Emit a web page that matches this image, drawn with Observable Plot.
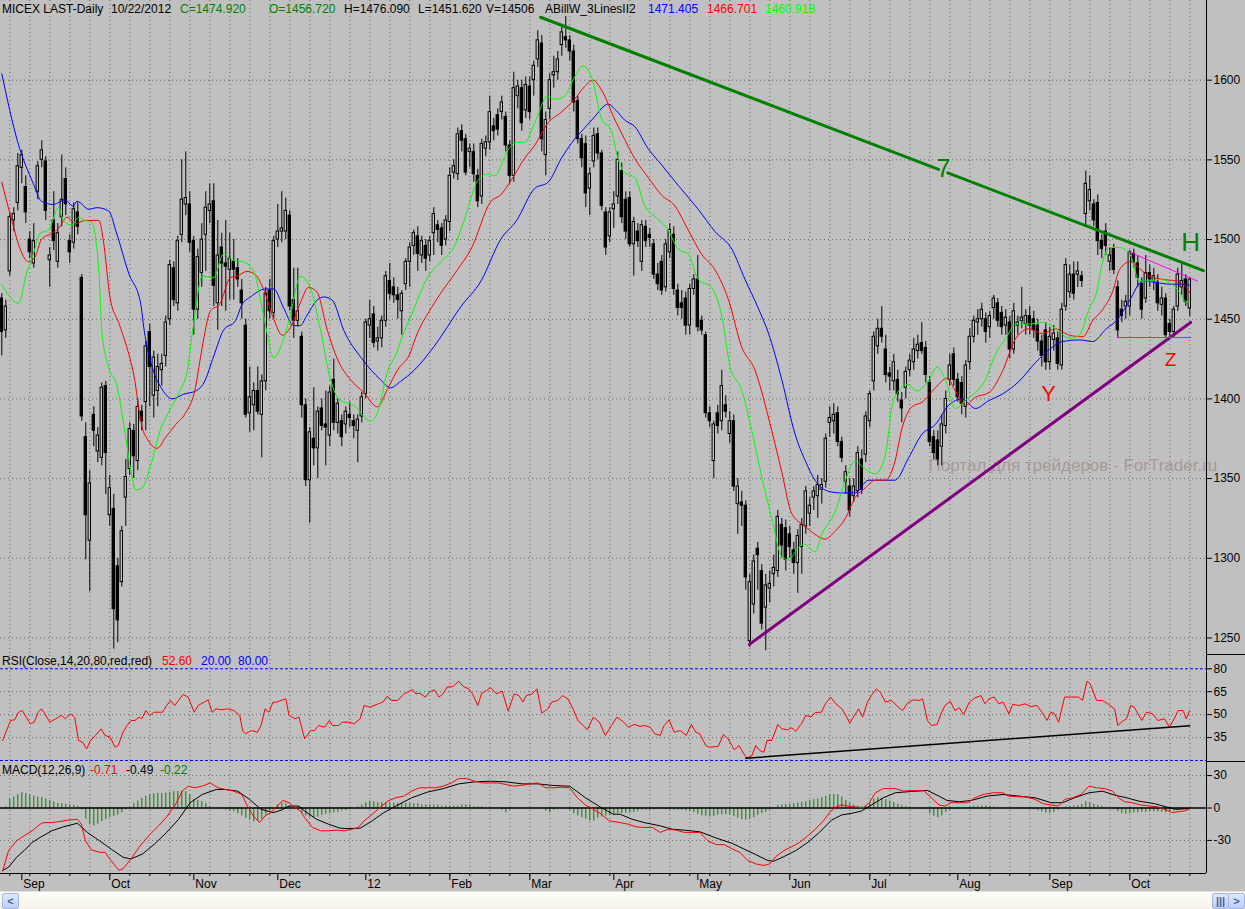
<!DOCTYPE html>
<html><head><meta charset="utf-8">
<script src="https://cdn.jsdelivr.net/npm/d3@7"></script>
<script src="https://cdn.jsdelivr.net/npm/@observablehq/plot@0.6"></script>
<style>
html,body{margin:0;padding:0;background:#c0c0c0;}
#wrap{position:relative;width:1245px;height:909px;background:#c0c0c0;overflow:hidden;font-family:"Liberation Sans",Arial,sans-serif;font-size:12px;}
.panel{position:absolute;left:0;}
.lbl{position:absolute;white-space:pre;font-family:"Liberation Sans",Arial,sans-serif;font-size:12px;line-height:14px;}
.sep{position:absolute;left:1206px;width:39px;height:1px;background:#000;}
</style></head><body><div id="wrap"></div><script>
// ---------------- DATA ----------------
const open = [1463,1443,1480,1512,1523,1545,1533,1500,1485,1530,1550,1549,1487,1512,1486,1514,1538,1499,1498,1517,
1476,1376,1311,1390,1367,1363,1408,1327,1331,1295,1285,1338,1356,1380,1361,1392,1398,1442,1402,1405,
1418,1427,1450,1482,1460,1503,1522,1522,1499,1456,1479,1503,1518,1524,1460,1495,1485,1481,1486,1482,
1468,1446,1391,1396,1405,1390,1411,1468,1454,1500,1505,1505,1515,1462,1449,1439,1396,1349,1375,1369,
1394,1384,1377,1412,1385,1386,1384,1390,1386,1380,1389,1403,1446,1453,1436,1438,1449,1474,1470,1465,
1455,1472,1486,1496,1502,1490,1496,1490,1504,1509,1507,1500,1511,1542,1541,1568,1563,1555,1555,1540,
1527,1557,1561,1571,1578,1580,1577,1559,1540,1590,1595,1581,1596,1600,1613,1623,1553,1582,1603,1605,
1622,1627,1625,1618,1587,1563,1560,1532,1549,1566,1554,1517,1502,1519,1527,1543,1525,1526,1497,1505,
1486,1508,1503,1497,1478,1486,1470,1492,1503,1468,1460,1463,1446,1469,1475,1449,1440,1391,1361,1391,
1386,1396,1378,1386,1334,1335,1333,1248,1271,1306,1292,1269,1281,1290,1292,1321,1319,1315,1305,1297,
1307,1320,1328,1338,1339,1343,1348,1385,1386,1391,1373,1348,1345,1339,1342,1362,1365,1386,1411,1433,
1444,1431,1416,1411,1412,1399,1407,1418,1423,1430,1435,1432,1410,1376,1374,1370,1383,1412,1428,1412,
1410,1395,1423,1439,1448,1450,1450,1445,1457,1460,1454,1446,1448,1431,1446,1449,1447,1452,1450,1446,
1436,1443,1423,1437,1438,1421,1458,1467,1478,1478,1477,1516,1524,1522,1523,1499,1505,1486,1494,1470,
1456,1458,1458,1491,1485,1472,1463,1479,1474,1473,1459,1463,1447,1442,1458,1470,1475,1456.72];
const high = [1466,1462,1517,1520,1554,1556,1540,1505,1510,1549,1562,1552,1495,1530,1510,1553,1545,1503,1523,1523,
1478,1385,1355,1395,1382,1410,1411,1352,1340,1300,1320,1362,1385,1384,1400,1396,1436,1447,1430,1428,
1428,1452,1487,1486,1502,1550,1555,1530,1502,1494,1510,1530,1535,1535,1512,1504,1512,1504,1500,1488,
1475,1450,1420,1410,1420,1415,1470,1475,1502,1522,1530,1526,1518,1482,1482,1442,1400,1382,1407,1395,
1400,1405,1408,1425,1400,1390,1395,1398,1390,1390,1404,1450,1462,1458,1445,1452,1480,1485,1476,1470,
1468,1488,1498,1506,1508,1502,1500,1502,1520,1512,1510,1515,1545,1550,1570,1572,1566,1560,1560,1544,
1563,1565,1590,1576,1582,1590,1580,1562,1605,1600,1600,1602,1602,1612,1631,1628,1580,1604,1615,1618,
1635,1640,1628,1622,1590,1566,1565,1545,1570,1570,1556,1520,1520,1530,1555,1548,1530,1530,1514,1510,
1512,1512,1507,1500,1485,1490,1500,1510,1508,1472,1468,1467,1472,1478,1490,1452,1442,1395,1386,1396,
1418,1402,1392,1390,1350,1342,1336,1290,1302,1310,1296,1290,1292,1302,1330,1325,1324,1320,1310,1318,
1325,1345,1338,1345,1352,1350,1378,1395,1397,1395,1376,1358,1350,1350,1370,1368,1392,1405,1442,1450,
1458,1440,1420,1428,1418,1404,1420,1428,1438,1440,1448,1436,1414,1380,1380,1390,1405,1428,1432,1416,
1414,1424,1444,1452,1456,1460,1454,1455,1465,1463,1458,1456,1452,1460,1452,1470,1456,1458,1455,1450,
1440,1448,1445,1446,1442,1460,1488,1484,1486,1486,1480,1543,1540,1525,1528,1503,1510,1495,1497,1474,
1462,1465,1493,1494,1490,1476,1490,1484,1482,1478,1470,1466,1450,1458,1482,1486,1478,1476.09];
const low = [1427,1438,1477,1505,1518,1535,1510,1488,1482,1525,1545,1512,1470,1493,1482,1508,1515,1485,1494,1503,
1386,1299,1279,1370,1360,1358,1340,1320,1243,1247,1282,1320,1352,1350,1355,1380,1380,1395,1388,1395,
1408,1420,1446,1458,1455,1498,1515,1492,1440,1450,1470,1480,1510,1458,1443,1458,1455,1462,1462,1470,
1450,1388,1379,1380,1390,1363,1405,1450,1450,1495,1498,1500,1455,1438,1445,1388,1345,1322,1358,1350,
1380,1358,1370,1380,1378,1370,1378,1382,1375,1360,1385,1400,1438,1432,1430,1432,1445,1462,1460,1450,
1440,1468,1470,1490,1480,1485,1480,1486,1490,1498,1490,1496,1505,1538,1537,1555,1540,1545,1536,1520,
1522,1552,1556,1562,1565,1575,1555,1535,1536,1582,1568,1576,1575,1590,1608,1555,1540,1575,1595,1600,
1615,1620,1612,1580,1560,1545,1520,1515,1545,1550,1518,1490,1498,1507,1522,1510,1500,1495,1477,1495,
1480,1495,1495,1475,1468,1465,1467,1488,1465,1452,1450,1440,1440,1465,1442,1440,1388,1382,1350,1378,
1380,1388,1372,1342,1315,1320,1280,1244,1265,1280,1255,1242,1272,1282,1288,1300,1292,1300,1290,1278,
1290,1315,1320,1330,1325,1334,1344,1376,1378,1370,1360,1340,1326,1335,1338,1340,1360,1382,1405,1428,
1435,1410,1405,1405,1398,1385,1400,1414,1418,1425,1428,1410,1370,1362,1358,1358,1378,1408,1408,1398,
1390,1388,1418,1435,1440,1445,1435,1438,1450,1445,1440,1440,1425,1428,1440,1444,1440,1440,1438,1430,
1420,1418,1418,1430,1418,1418,1455,1463,1462,1470,1470,1508,1518,1508,1490,1488,1490,1480,1478,1438,
1448,1450,1452,1482,1470,1450,1460,1470,1468,1455,1452,1438,1438,1438,1455,1465,1458,1451.62];
const close = [1442,1458,1514,1516,1546,1553,1517,1492,1499,1546,1556,1518,1490,1499,1504,1525,1522,1492,1519,1508,
1389,1327,1347,1380,1377,1407,1366,1344,1268,1261,1317,1351,1381,1364,1395,1386,1433,1420,1426,1420,
1422,1448,1484,1462,1499,1525,1526,1498,1456,1489,1500,1520,1522,1471,1490,1485,1483,1488,1481,1475,
1460,1390,1401,1405,1392,1411,1466,1455,1499,1505,1507,1518,1458,1449,1455,1396,1349,1379,1369,1392,
1383,1382,1404,1385,1397,1376,1392,1388,1383,1387,1401,1448,1450,1435,1438,1449,1477,1466,1465,1462,
1466,1486,1495,1504,1491,1499,1488,1499,1516,1506,1496,1512,1540,1546,1566,1562,1542,1557,1541,1524,
1560,1561,1580,1568,1569,1586,1559,1540,1595,1596,1573,1597,1580,1609,1625,1563,1575,1600,1605,1613,
1630,1625,1618,1586,1563,1551,1529,1541,1565,1554,1521,1495,1517,1522,1550,1514,1505,1497,1511,1499,
1509,1499,1501,1478,1472,1468,1497,1506,1469,1457,1457,1446,1469,1475,1445,1443,1391,1386,1384,1383,
1408,1392,1386,1345,1345,1333,1288,1285,1298,1302,1259,1283,1284,1294,1326,1308,1299,1307,1297,1314,
1321,1342,1333,1342,1346,1346,1375,1388,1390,1373,1363,1354,1330,1345,1366,1343,1389,1403,1439,1444,
1439,1415,1414,1423,1403,1394,1417,1424,1431,1434,1430,1415,1373,1366,1362,1384,1400,1421,1412,1401,
1397,1421,1439,1449,1450,1456,1442,1452,1463,1449,1445,1451,1431,1455,1448,1451,1452,1446,1443,1436,
1427,1423,1439,1441,1422,1456,1484,1478,1466,1480,1474,1535,1531,1512,1499,1494,1496,1490,1481,1443,
1452,1461,1492,1486,1476,1456,1479,1475,1477,1460,1463,1440,1442,1456,1478,1474,1461,1474.92];

// moving averages [bar, value]
const maSlow = [[0,1604],[4,1561],[7.9,1535],[9.9,1524],[12.9,1522],[15.8,1525],[17.8,1521],[18.8,1524],[21.8,1519],[23.8,1520],[26.7,1518],[28.7,1504],[31.7,1479],[34.7,1460],[35.6,1443],[37.6,1420],[40.1,1406],[42.6,1400],[45.5,1403],[48.5,1405],[50.5,1410],[53,1427],[55.4,1443],[58.4,1449],[60,1459],[62.2,1464],[65.9,1469],[68,1469],[70.3,1458],[73,1446],[74.6,1446],[76.2,1452],[78.8,1462],[80.5,1464],[82.6,1462],[85.5,1443],[90.1,1425],[94.7,1412],[97.2,1407],[99.7,1411],[103.1,1418],[108.1,1433],[114.8,1458],[119.8,1474],[124.7,1500],[128.7,1512],[133.2,1532],[136.6,1536],[139.9,1551],[143.2,1563],[145.7,1570],[148.2,1577],[150.7,1584],[151.5,1585],[153.6,1581],[155.7,1575],[158.2,1571],[161.6,1557],[164.9,1547],[169.1,1534],[174.1,1519],[178.3,1505],[182.5,1494],[185.8,1475],[189.1,1457],[191.7,1441],[195,1412],[198.3,1378],[200.9,1361],[203.3,1349],[206.7,1342],[209.9,1341],[213.3,1341],[216.7,1349],[220.1,1349],[223.3,1349],[226.7,1363],[230.1,1378],[233.4,1384],[236.7,1396],[240.1,1400],[243.4,1394],[246.8,1399],[250.1,1403],[254.3,1411],[258.5,1423],[261.9,1431],[265.2,1436],[269.4,1437],[272.7,1436],[276.1,1444],[279,1450],[282,1462],[285.2,1474],[288.6,1473],[292,1472],[295.3,1472],[297,1471.4]];
const maMid = [[0,1536],[2.5,1512],[4.6,1494],[6.7,1486],[8.3,1489],[9.9,1500],[12.6,1504],[14.2,1507],[16.3,1514],[18.4,1510],[20.8,1512],[24.3,1512],[25.4,1499],[27.1,1463],[29.2,1448],[31.3,1432],[33,1415],[35,1383],[36.6,1374],[38.8,1369],[41,1376],[43.5,1384],[45.9,1391],[48.4,1407],[49.6,1425],[50.5,1438],[52.1,1455],[54.6,1460],[57.1,1476],[58.8,1477],[61.3,1480],[63.4,1478],[65.4,1469],[68,1450],[70.1,1440],[72.2,1445],[74.6,1460],[76.7,1470],[78.8,1467],[81.4,1443],[83.9,1425],[87.2,1412],[90.5,1404],[93.9,1395],[96.4,1406],[98.9,1418],[102.3,1430],[103.1,1436],[108.1,1460],[113.9,1481],[117.3,1494],[122.3,1524],[124.7,1528],[127.3,1537],[130.7,1551],[133.2,1559],[136.5,1573],[139.9,1580],[143.2,1588],[145.7,1596],[147.8,1600],[149.9,1594],[153.3,1575],[155.7,1563],[158.2,1551],[161.6,1539],[164.9,1528],[168.3,1521],[171.6,1506],[174.9,1491],[178.3,1481],[181.7,1462],[184.9,1433],[188.3,1418],[191.7,1388],[195,1354],[197.5,1328],[200.9,1320],[203.3,1315],[205.8,1312],[208.3,1317],[210.9,1325],[213.3,1338],[215.8,1344],[218.4,1349],[220.9,1349],[223.3,1361],[225,1381],[227.5,1395],[230.1,1398],[233.4,1407],[236.3,1413],[238.4,1405],[240.9,1396],[243.4,1401],[246.8,1404],[250.1,1417],[253.5,1438],[256.9,1444],[260.2,1441],[263.5,1444],[266.9,1440],[270.3,1439],[272.7,1449],[275.2,1456],[277.8,1468],[279.4,1481],[282,1486],[284.4,1482],[286.9,1477],[290.3,1475],[293.6,1474],[296.1,1470],[297,1466.7]];
const maFast = [[0,1472],[2,1464],[4.2,1460],[6.2,1479],[7.9,1491],[9.6,1504],[11.7,1506],[14.2,1520],[15.4,1512],[17.5,1509],[19.2,1514],[20.8,1512],[22.4,1511],[24.3,1479],[25,1443],[26.7,1420],[28.8,1408],[30.5,1384],[32.2,1356],[33.5,1343],[35,1344],[37.2,1358],[39.7,1381],[41.8,1392],[44.3,1404],[46.3,1417],[48,1448],[50.1,1477],[53,1476],[55.4,1491],[57.9,1487],[60.4,1486],[63,1480],[65.4,1453],[68,1426],[70.5,1438],[72.2,1453],[74.6,1477],[77.1,1470],[79.7,1443],[82.2,1412],[84.6,1399],[88,1396],[92.2,1386],[93.9,1391],[96.4,1417],[98.9,1430],[99.8,1437],[102.3,1452],[106.4,1476],[109.8,1486],[113.2,1496],[115.6,1512],[119,1537],[121.5,1541],[123.2,1540],[126.5,1556],[128.6,1561],[130.7,1561],[133.2,1573],[136.5,1590],[138.2,1588],[140.7,1590],[143.2,1602],[145.3,1609],[147.8,1599],[149.9,1576],[152.5,1568],[153.6,1555],[155.7,1542],[158.2,1539],[160.8,1521],[164,1513],[166.6,1506],[169.1,1494],[171.6,1491],[174.1,1475],[177.4,1470],[180,1452],[182.1,1420],[184.9,1406],[187.5,1380],[190,1351],[192.5,1325],[195,1301],[196.7,1299],[199.2,1307],[200.5,1309],[203.3,1304],[205,1315],[208.3,1329],[210.9,1349],[213.3,1361],[215.8,1356],[218.4,1353],[220.9,1365],[222.6,1396],[224.2,1405],[226.3,1409],[228.8,1405],[231.8,1412],[233.8,1420],[235.9,1412],[238.4,1394],[240.9,1399],[243.4,1404],[245.9,1412],[248.4,1428],[251,1438],[253.5,1447],[256.9,1447],[260.2,1448],[263.5,1444],[266.9,1438],[269.4,1440],[271.9,1457],[273.5,1465],[275.2,1486],[276.9,1495],[279.4,1495],[282,1491],[284.4,1474],[286.9,1474],[289.5,1475],[292,1473],[294.4,1467],[296.1,1461],[297,1460.9]];

// RSI(14) [bar, value]
const rsi = [[0.2,33.1],[1.2,39.6],[2.2,46.2],[3.2,46.6],[4.2,51.6],[5.1,52.7],[6.1,48.4],[7.1,44],[8.1,45.1],[9.1,51.6],[9.9,53.8],[10.5,51.6],[12,45.1],[13.5,47.3],[14.9,49.5],[15.9,47.3],[17.2,50.5],[18.2,48.4],[19.2,33.1],[20.2,32],[21.2,27.6],[22.2,33.1],[23.4,36.4],[24.8,40.7],[25.8,36.4],[27.1,35.3],[28.3,28.7],[29.1,29.8],[30.3,38.5],[31.3,42.9],[32.3,46.2],[33.3,46.2],[34.3,48.4],[35,47.3],[36,52.7],[37,49.5],[38,51.6],[39.2,51.6],[40.2,51.6],[41.2,56],[42.2,59.3],[43.2,56],[44.2,59.3],[45.3,63.2],[46.6,61.5],[48.1,51.6],[49.1,56],[50.6,58.2],[51.6,59.7],[52.6,51.6],[53.6,53.8],[55,53.2],[56.5,53.8],[58,52.7],[59.5,49.5],[60.2,39.6],[60.9,37.5],[62.4,39.6],[63.9,38.5],[64.8,42.9],[65.8,53.8],[66.8,51.6],[67.8,58.2],[68.8,58.2],[69.8,59.3],[71,60.4],[71.8,49.5],[73.3,47.3],[74.3,48.4],[75.7,34.2],[77.2,39.6],[78.2,39.6],[79.2,42.9],[80.7,41.8],[81.9,46.2],[82.7,42.9],[84.2,42.9],[85.1,45.1],[86.6,45.1],[88.1,44],[89.6,47.3],[90.6,56],[92.1,54.9],[94.1,57.1],[95.3,58.2],[96.3,61.9],[97.5,59.3],[99,59.3],[100.5,63.6],[101.5,64.7],[102.7,66.5],[103.5,63.6],[104.4,64.1],[105.9,61.5],[106.9,64.7],[108.1,66.3],[109.3,61.5],[110.3,63.6],[111.3,68],[112.8,68.4],[114.2,71.9],[115.4,68.4],[116.7,66.9],[117.7,63.6],[119,56],[120,64.1],[121.2,65.8],[122.2,67.6],[123.7,63.6],[125.1,65.4],[126.6,52.3],[128.1,63.6],[129.3,62.5],[130.3,58.2],[131.1,62.5],[132.6,63.6],[133.8,66.9],[135,51],[136.5,53.8],[137.5,58.2],[139,59.3],[140.2,62.5],[141.5,60.4],[142.8,53.8],[144,46.2],[145.4,42.9],[146.4,40.1],[147.9,48.4],[149.4,45.1],[150.9,36.4],[152.4,42.9],[153.8,48.4],[155.5,45.1],[156.6,41.8],[158.1,43.6],[159.6,42.3],[160.6,42.9],[162.1,41.8],[163.2,37.5],[164.6,36.4],[165.6,42.9],[166.8,46.6],[168.1,38.5],[169.6,39.6],[171.1,36.4],[172.4,43.6],[173.5,38.5],[174.5,37.5],[176,29.8],[177,28.7],[179.1,29.2],[180.4,37],[181.6,34.2],[183.1,27],[184.3,29.8],[185.5,24.4],[186.3,21.5],[187.5,23.1],[188.5,29.8],[189.5,26.5],[190.5,25.4],[191.3,33.1],[192.5,33.1],[194,43.6],[195,40.7],[196.5,40.1],[197.5,41.4],[198.5,39.2],[200,44.4],[201,49.5],[202.3,48.4],[203.4,51.4],[204.9,51.6],[205.9,57.1],[207.2,61.5],[208.5,57.1],[210,53.8],[211,49.5],[212,44.4],[212.9,48.4],[214.2,53.8],[215.2,48.4],[216.4,58.2],[217.4,62.5],[218.6,66.9],[219.6,64.7],[220.9,58.2],[222.4,59.3],[224,55.3],[225.2,52.7],[226.4,57.5],[227.9,59.7],[229.4,59.3],[230.2,60.4],[231.4,46.2],[232.4,42.9],[233.8,43.6],[234.8,50.5],[235.8,56],[237.1,58.8],[238.3,52.7],[239.4,54.5],[240.4,50.1],[241.9,58.2],[243.3,61],[244.8,62.5],[245.8,57.1],[246.8,60.4],[248.1,61.5],[249.3,57.1],[250.3,58.2],[251.8,50.5],[252.7,56.7],[254.3,56],[255.8,57.1],[257.3,55.3],[258.8,56],[260.3,50.5],[261.3,46.2],[262.3,51.6],[263.2,50.5],[264.2,45.1],[265.7,61.5],[267.2,61.5],[269.2,61.5],[270.2,59.3],[271.3,71.9],[272.1,70.2],[273.7,59.3],[275.2,59.3],[276.7,56.7],[278.2,53.8],[279,42.9],[280.2,45.7],[281.2,47.3],[282.2,56],[283.1,54.9],[285,46.2],[286.2,51.6],[287.7,50.5],[289,46.2],[290.7,47.3],[291.9,41.8],[293.1,47.3],[294.1,52.7],[295.3,52.7],[296.1,47.3],[297,52.6]];
const rsiTrend = [[186,21.5],[297,42.7]];

// MACD(12,26,9) [bar, value]
const macdLine = [[0.2,-58.4],[1.7,-39.4],[3.7,-30.3],[5.6,-25.7],[7.6,-21.1],[9.6,-15],[10.5,-13.5],[12.5,-13.5],[14.5,-12.5],[16.4,-11.3],[18.9,-10.4],[19.9,-15],[20.9,-30.3],[22.4,-38.8],[24.4,-41],[25.8,-41],[27.3,-48.6],[29.3,-57.8],[30.3,-56.3],[32.3,-47.1],[34.3,-36.4],[36.7,-25.7],[39.2,-16.5],[41.2,-8.3],[43.2,1.8],[45.1,15.6],[46.6,20.2],[48.1,18.7],[50.1,20.2],[52.1,23.2],[54.1,18.7],[56,17.1],[58,15.6],[60,12.5],[61.4,1.8],[62.9,-7.3],[64.4,-13.5],[65.8,-7.3],[67.3,-4.3],[68.8,1.8],[70.3,7],[71.8,4.9],[73.3,0.3],[74.7,-2.8],[75.7,-8.9],[77.7,-18],[79.7,-21.1],[81.7,-21.1],[83.7,-20.5],[85.6,-21.1],[87.6,-19.6],[89.1,-18],[90.6,-11.9],[92.6,-5.8],[94.5,0.3],[96.5,6.4],[98.5,9.5],[100.5,11],[102.5,15.6],[104.4,18.7],[106.4,18.7],[108.4,18.7],[110.4,20.2],[112.4,23.2],[114.2,27.2],[116.2,27.2],[118.2,24.8],[120.2,23.2],[122.2,23.2],[124.1,23.2],[126.1,21.7],[128.1,20.2],[130.1,21.1],[132.1,22.3],[134,23.2],[136,18.7],[138,18.7],[140,19.3],[142,18.7],[143.9,9.5],[145.9,2.8],[147.9,-1.2],[149.9,-5.8],[151.9,-11.9],[154.6,-13.5],[156.6,-15],[158.6,-17.4],[160.6,-18],[162.7,-18],[164.6,-22.6],[166.6,-19.6],[168.6,-20.5],[170.6,-22.6],[172.6,-22.6],[174.5,-22.6],[176.5,-30.3],[178.6,-33.9],[180.6,-33.9],[182.6,-37.9],[184.5,-41],[186.5,-48.6],[188.5,-51.7],[190.5,-53.2],[192,-51.7],[193.5,-45],[195.5,-39.4],[197.5,-35.8],[199.5,-31.8],[201.5,-25.7],[203.4,-19.6],[205.4,-11.9],[206.9,-4.3],[208.5,0.9],[210,2.8],[211.5,1.8],[213.4,0.9],[215.4,0.3],[216.9,4.9],[218.4,14.1],[220.4,18],[223.4,18],[225.4,15.6],[227.4,16.2],[230.4,16.2],[232.4,9.5],[234.3,2.8],[235.8,1.8],[237.3,4.9],[239.4,4.9],[241.4,4.9],[243.3,9.5],[245.3,12.5],[247.8,14.1],[250.3,14.1],[251.7,11],[254.3,10.4],[256.3,10.1],[258.3,8],[260.3,4],[262.3,2.8],[264.2,1.8],[265.7,8],[267.7,9.5],[269.8,12.5],[271.8,20.2],[273.7,18.7],[275.7,18],[277.7,15.6],[279.2,9.5],[280.7,5.8],[282.6,4.9],[284.7,2.8],[287.2,1.8],[289.2,0.9],[291.2,-2.1],[292.6,-4.3],[294.1,-3.4],[295.6,-2.8],[297,-0.71]];
const signalLine = [[0.2,-57.8],[1.7,-54.7],[3.7,-45.6],[5.6,-39.4],[7.6,-31.8],[9.6,-27.2],[12.5,-21.1],[15.4,-17.4],[18.9,-14.1],[21.4,-22.6],[24.4,-30.3],[27.3,-37.9],[30.3,-45.6],[32.3,-47.1],[35.2,-42.5],[38.2,-33.3],[41.2,-22.6],[44.2,-10.4],[47.1,4.9],[50.1,12.5],[53.6,17.1],[56,17.1],[59,15.6],[61.9,8],[64.8,-1.2],[67.8,-4.3],[69.8,-2.1],[71.8,1.8],[74.3,1.8],[75.7,-2.8],[78.7,-10.4],[81.7,-15],[84.6,-18.7],[86.6,-19],[89.6,-18.7],[92.6,-11.9],[95.5,-4.3],[98.5,1.8],[102.5,9.5],[106.4,14.7],[110.4,18],[114.2,22.3],[118.2,24.2],[122.2,24.8],[126.1,24.2],[130.1,22.3],[134,22.3],[138,20.8],[142,20.2],[145.9,9.5],[149.9,0.3],[152.9,-5.8],[154.6,-5.8],[157.6,-10.4],[160.6,-13.5],[164.6,-16.5],[167.6,-19.6],[170.6,-20.5],[174.5,-22],[178.6,-27.8],[182.6,-32.7],[185.5,-37.9],[188.5,-43.1],[191.5,-48.6],[193,-49.2],[195.5,-45],[198.5,-39.4],[201.5,-31.8],[204.4,-22.6],[207.4,-11.3],[210,-6.4],[212.5,-4.9],[214.9,-2.8],[217.4,2.8],[220.4,9.5],[223.4,14.1],[226.4,15],[231.4,16.2],[234.3,11],[236.3,7],[239.4,5.8],[242.4,7],[246.3,11],[250.3,12.5],[254.3,11],[258.3,9.5],[262.3,4.9],[265.2,4.9],[268.2,9.5],[271.8,14.1],[275.2,15.6],[278.2,11.9],[281.2,9.5],[284.2,6.4],[288.2,4],[291.2,0.9],[293.6,-1.2],[297,-0.49]];
const macdHist = [-1,1,8,10,12.5,14,13.5,12,11,10,9.5,8.5,7,5.5,4.3,4,3.4,2.8,2.4,1.5,-2,-10.4,-15.6,-16.5,-15,-12.5,-10.7,-8.9,-8,-6.7,-4.3,-1.5,1,4,6.4,8.9,11,12.5,13.1,13.5,13.5,13.8,14.4,15,15.3,15.6,15,12.5,8,7,
5.8,4,1.5,0.3,-0.3,-1,-1.8,-2.8,-3.4,-5.2,-7.3,-9.5,-11.3,-12.8,-12.5,-10.4,-6.4,-2.8,0.3,2.8,4.6,4,1.8,0.2,-2.1,-5.2,-7.3,-8.9,-8.9,-8.3,-7,-5.8,-5.2,-4.6,-4,-2.8,-2.1,-1.2,-0.3,0.9,2.8,4.9,6.4,5.8,4.9,4.9,4.8,4.6,4.5,
4.4,4.3,4.2,4.1,4,4,2.8,2.8,2.8,2.8,2.8,1.8,1.8,1.8,1.8,1.8,2.8,2.8,2.8,1.2,1.2,1.2,0.3,0.3,0.3,0.3,-2,-4.3,-2,-0.3,-0.3,-0.3,-0.3,-0.3,0.2,0.2,0.2,-2.8,-4.3,-2,0.3,0.3,0.3,-2,-5.2,-7.3,-8.9,-10.4,-12,-12,
-9.5,-8.3,-7.3,-6.7,-5.8,-5.2,-5.2,-4.9,-4.6,-4.3,-3.4,-2.1,-2.1,-2.1,-1.8,-1.5,-1.5,-1.5,-2.1,-2.1,-2.1,-2.1,-2.8,-3.4,-4.3,-5.8,-7.3,-7.6,-8.3,-8,-6.7,-6.4,-6.1,-6.4,-8,-9.5,-10.7,-11.3,-10.4,-8.9,-7,-5.2,-4,-2.1,0.3,2.1,2.8,3.1,3.4,
4,4.6,5.2,5.8,7,7.6,8.3,9.5,10.7,11.9,12.5,12.5,10.1,7,4.6,2.8,1.8,1.5,1.5,4.9,8,9.5,8.9,7.6,6.4,4.9,3.4,2.1,1.2,0.6,0.3,0.1,-0.3,-1.5,-5.2,-7.6,-8.9,-7.3,-4,-2.1,-1.5,-0.9,-0.3,0.3,0.9,1.5,1.8,1.8,1.8,1.5,
0.9,0.6,0.3,0.1,-0.1,-0.3,-0.6,-0.9,-1.2,-1.5,-1.8,-2.8,-3.7,-4.6,-4.9,-4,-2.1,0.3,1.2,1.5,1.8,2.1,3.4,5.8,4.9,3.4,2.4,1.5,0.6,-0.3,-1.5,-3.4,-5.2,-5.8,-5.2,-4.6,-4.3,-4,-4,-3.7,-3.4,-3.4,-4,-4.3,-3.4,-2.8,-2.1,-1.5,-0.9,-0.22];

// trendlines and annotations [bar, price]
const trendDown = [[134.7,1639.5],[300.4,1480.5]];
const trendUp = [[186.9,1246],[297.2,1448]];
const wedgeTop = [[281.7,1492.4],[298.9,1474]];
const wedgeBottom = [[278.9,1438.5],[297.2,1438.5]];
const waveLabels = [
  {x: 235.4, y: 1544.5, t: "7", c: "#008000", s: 25},
  {x: 297.2, y: 1498, t: "H", c: "#008000", s: 26},
  {x: 261.7, y: 1403, t: "Y", c: "#ff0000", s: 22},
  {x: 292.2, y: 1424.4, t: "Z", c: "#ff0000", s: 19}
];
const watermark = [{x: 231.7, y: 1358.5, t: "Портал для трейдеров - ForTrader.ru"}];

// axis ticks and labels
const priceTicks = [1250,1300,1350,1400,1450,1500,1550,1600];
const rsiTicks = [35,50,65,80];
const macdTicks = [-30,0,30];
const monthIdx = [5,27,48,69,91,112,132,153,174,197,217,239,262,282];
const monthLabels = ["Sep","Oct","Nov","Dec","12","Feb","Mar","Apr","May","Jun","Jul","Aug","Sep","Oct"];

// legend texts: [text, colour, left px]
const headerParts = [["MICEX LAST-Daily","#000",2],["10/22/2012","#000",111],["C=1474.920","#008000",180],["O=1456.720","#008000",269],["H=1476.090","#000",344],["L=1451.620","#000",418],["V=14506","#000",486],["ABillW_3LinesII2","#000",545],["1471.405","#0000ff",648],["1466.701","#ff0000",707],["1460.918","#00ff00",765]];
const rsiParts = [["RSI(Close,14,20,80,red,red)","#000",2],["52.60","#ff0000",162],["20.00","#0000ff",201],["80.00","#0000ff",238]];
const macdParts = [["MACD(12,26,9)","#000",2],["-0.71","#ff0000",90],["-0.49","#000",126],["-0.22","#008000",160]];

// ---------------- DRAWING ----------------
const W = 1245, MR = 39;
const XMIN = -0.325, XMAX = 301.175;
const xs = () => ({domain: [XMIN, XMAX], axis: null});
const N = close.length;
const bars = close.map((c, i) => ({i, o: open[i], h: high[i], l: low[i], c}));
const gridIdx = d3.range(2, N, 5);
const dots = {stroke: "#666666", strokeDasharray: "1,3", strokeOpacity: 1};
const style = {fontFamily: '"Liberation Sans", Arial, sans-serif', fontSize: "12px", background: "transparent", overflow: "visible", color: "#000"};
const axisOpts = (ticks) => ({anchor: "right", ticks, tickSize: 5, tickPadding: 2, tickFormat: d => String(d), fontSize: 12, label: null, stroke: "#000"});
const px = d => d[0], py = d => d[1];

const wrap = document.getElementById("wrap");
function place(el, top) { const d = document.createElement("div"); d.className = "panel"; d.style.top = top + "px"; d.appendChild(el); wrap.appendChild(d); }

const pricePlot = Plot.plot({
  width: W, height: 655, marginLeft: 0, marginRight: MR, marginTop: 0, marginBottom: 0,
  x: xs(), y: {domain: [1239, 1650], axis: null}, style,
  marks: [
    Plot.gridY(priceTicks, dots),
    Plot.gridX(gridIdx, dots),
    Plot.text(watermark, {x: "x", y: "y", text: "t", textAnchor: "start", fill: "#a89898", fontSize: 17}),
    Plot.ruleX(bars, {x: "i", y1: "l", y2: "h", stroke: "#000"}),
    Plot.rect(bars, {x1: d => d.i - 0.3, x2: d => d.i + 0.3, y1: "o", y2: "c", fill: d => d.c >= d.o ? "#c0c0c0" : "#000", stroke: "#000", strokeWidth: 1}),
    Plot.line(maSlow, {x: px, y: py, stroke: "#0000ff", strokeWidth: 1, curve: "monotone-x"}),
    Plot.line(maMid, {x: px, y: py, stroke: "#ff0000", strokeWidth: 1, curve: "monotone-x"}),
    Plot.line(maFast, {x: px, y: py, stroke: "#00ff00", strokeWidth: 1, curve: "monotone-x"}),
    Plot.line(trendDown, {x: px, y: py, stroke: "#008000", strokeWidth: 3}),
    Plot.line(trendUp, {x: px, y: py, stroke: "#800080", strokeWidth: 3}),
    Plot.line(wedgeTop, {x: px, y: py, stroke: "#ff00ff", strokeWidth: 1}),
    Plot.line(wedgeBottom, {x: px, y: py, stroke: "#ff00ff", strokeWidth: 1}),
    Plot.text(waveLabels, {x: "x", y: "y", text: "t", fill: "c", fontSize: "s", stroke: "#c0c0c0", strokeWidth: 5}),
    Plot.ruleX([XMAX], {stroke: "#000"}),
    Plot.axisY(axisOpts(priceTicks))
  ]
});
place(pricePlot, 0);

const rsiPlot = Plot.plot({
  width: W, height: 107, marginLeft: 0, marginRight: MR, marginTop: 0, marginBottom: 0,
  x: xs(), y: {domain: [18.7, 88.7], axis: null}, style,
  marks: [
    Plot.gridY([35, 50, 65], dots),
    Plot.gridX(gridIdx, dots),
    Plot.ruleY([20, 80], {stroke: "#0000ff", strokeDasharray: "3,2"}),
    Plot.line(rsi, {x: px, y: py, stroke: "#ff0000", strokeWidth: 1}),
    Plot.line(rsiTrend, {x: px, y: py, stroke: "#000", strokeWidth: 1.5}),
    Plot.ruleX([XMAX], {stroke: "#000"}),
    Plot.axisY(axisOpts(rsiTicks))
  ]
});
place(rsiPlot, 655);

const MMIN = -60.6, MMAX = 42.1, MH = 111;
const mpx = MH / (MMAX - MMIN);
const monthData = monthIdx.map((x, k) => ({x, t: monthLabels[k]}));
const macdPlot = Plot.plot({
  width: W, height: MH + 36, marginLeft: 0, marginRight: MR, marginTop: 0, marginBottom: 36,
  x: xs(), y: {domain: [MMIN, MMAX], axis: null}, style,
  marks: [
    Plot.gridY([-30, 30], dots),
    Plot.gridX(gridIdx, dots),
    Plot.ruleX(macdHist, {x: (d, i) => i, y1: 0, y2: d => d, stroke: "#008000"}),
    Plot.ruleY([0], {stroke: "#000", strokeWidth: 1.5}),
    Plot.line(signalLine, {x: px, y: py, stroke: "#000", strokeWidth: 1}),
    Plot.line(macdLine, {x: px, y: py, stroke: "#ff0000", strokeWidth: 1}),
    Plot.ruleX([XMAX], {y1: MMIN, y2: MMAX, stroke: "#000"}),
    Plot.ruleY([MMIN], {stroke: "#000"}),
    Plot.ruleX(gridIdx, {y1: MMIN, y2: MMIN - 3 / mpx, stroke: "#000"}),
    Plot.ruleX(monthIdx, {y1: MMIN, y2: MMIN - 7 / mpx, stroke: "#000"}),
    Plot.text(monthData, {x: "x", y: MMIN - 11 / mpx, text: "t", textAnchor: "start", dx: 1.5, fontSize: 12, fill: "#000"}),
    Plot.axisY(axisOpts(macdTicks))
  ]
});
place(macdPlot, 762);

// separators in the axis strip
for (const t of [654, 761]) { const s = document.createElement("div"); s.className = "sep"; s.style.top = t + "px"; wrap.appendChild(s); }

// legends / header texts, each part at its own left position
function legend(top, parts) {
  for (const [t, c, left] of parts) {
    const s = document.createElement("div");
    s.className = "lbl"; s.style.left = left + "px"; s.style.top = top + "px"; s.style.color = c;
    s.textContent = t; wrap.appendChild(s);
  }
}
legend(2, headerParts);
legend(654, rsiParts);
legend(763, macdParts);

// scrollbar strip
const sb = document.createElement("div");
sb.style.cssText = "position:absolute;left:0;top:891px;width:1245px;height:18px;background:linear-gradient(#fdfdf9,#f3f1e8);border-top:1px solid #e4e2d8;";
wrap.appendChild(sb);
function btn(left, txt) {
  const b = document.createElement("div");
  b.style.cssText = `position:absolute;left:${left}px;top:893px;width:15px;height:14px;background:linear-gradient(#dfe8fd,#bccdf5);border:1px solid #a5b7e0;border-radius:2px;color:#4a5f8e;font:bold 11px Arial;text-align:center;line-height:14px;`;
  b.textContent = txt; wrap.appendChild(b);
}
btn(2, "<"); btn(1212, "|||"); btn(1228, ">");
</script></body></html>
